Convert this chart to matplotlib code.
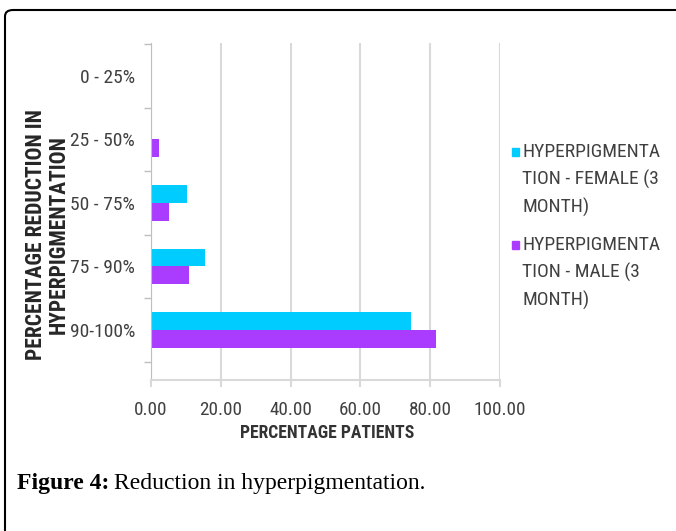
import matplotlib
matplotlib.use("Agg")
import matplotlib.pyplot as plt
from matplotlib import font_manager
from matplotlib.patches import FancyBboxPatch, Rectangle
import numpy as np

# data
categories = ["0 - 25%", "25 - 50%", "50 - 75%", "75 - 90%", "90-100%"]
female = [0.0, 0.0, 10.2, 15.4, 74.5]
male = [0.0, 2.3, 5.3, 11.0, 81.8]
series_labels = ["HYPERPIGMENTA\nTION - FEMALE (3\nMONTH)",
                 "HYPERPIGMENTA\nTION - MALE (3\nMONTH)"]
series_colors = ["#00ccff", "#aa3cff"]
x_ticks = [0, 20, 40, 60, 80, 100]


def pick_font(names):
    for n in names:
        try:
            font_manager.findfont(n, fallback_to_default=False)
            return n
        except Exception:
            pass
    return "DejaVu Sans"


narrow = pick_font(["Liberation Sans Narrow", "DejaVu Sans Condensed",
                    "Roboto Condensed", "Open Sans Condensed", "Roboto"])
font = [narrow, "DejaVu Sans"]

W, H = 676, 531
fig = plt.figure(figsize=(W / 100, H / 100), dpi=100)

text_col = "#404040"
grid_col = "#d9d9d9"


def fx(px):
    return px / W


def fy(py):
    return 1 - py / H


# frame around the figure (only top and left visible)
frame = FancyBboxPatch((fx(5), fy(10) - 1), 1.1, 1.0,
                       boxstyle="round,pad=0,rounding_size=0.012",
                       transform=fig.transFigure, fill=False,
                       edgecolor="black", linewidth=1.5)
fig.patches.append(frame)

ax_left, ax_right, ax_top, ax_bot = 151, 500, 43, 380
ax = fig.add_axes([fx(ax_left), fy(ax_bot), (ax_right - ax_left) / W,
                   (ax_bot - ax_top) / H])

y = np.arange(len(categories))
h = 0.28
ax.barh(y - h / 2, female, height=h, color=series_colors[0])
ax.barh(y + h / 2, male, height=h, color=series_colors[1])

ax.set_xlim(0, 100)
ax.set_ylim(4.79, -0.52)
ax.set_xticks(x_ticks)
ax.set_xticklabels(["%.2f" % v for v in x_ticks], fontfamily=font,
                   fontsize=13.8, color=text_col)
ax.set_yticks(y)
ax.set_yticklabels(categories, fontfamily=font, fontsize=14, color=text_col)
ax.set_yticks(np.arange(-0.5, len(categories)), minor=True)
ax.tick_params(axis="y", which="major", length=0, pad=11.5)
ax.tick_params(axis="y", which="minor", length=5, color="#bfbfbf", width=1)
ax.tick_params(axis="x", length=5, color=grid_col, width=1.5, pad=10)

ax.grid(axis="x", color=grid_col, linewidth=1.5)
ax.set_axisbelow(True)
for s in ["top", "right"]:
    ax.spines[s].set_visible(False)
ax.spines["left"].set_color("#bfbfbf")
ax.spines["bottom"].set_color(grid_col)
ax.spines["bottom"].set_linewidth(1.5)

fig.text(fx(327), fy(433), "PERCENTAGE PATIENTS",
         ha="center", va="center", fontsize=12.7, fontweight="bold",
         fontfamily=font, color="#333333")
fig.text(fx(47), fy(235), "PERCENTAGE REDUCTION IN\nHYPERPIGMENTATION",
         ha="center", va="center", rotation=90, fontsize=15.5,
         fontweight="bold", fontfamily=font, color="#262626",
         linespacing=1.05)

# legend drawn by hand: square next to the first line of each label
legend_tops = [152, 245]
for lab, col, ty in zip(series_labels, series_colors, legend_tops):
    fig.patches.append(Rectangle((fx(512), fy(ty + 4)), 7 / W, 8 / H,
                                 transform=fig.transFigure, color=col))
    for k, line in enumerate(lab.split("\n")):
        fig.text(fx(522), fy(ty + 27.5 * k), line, ha="left", va="center",
                 fontsize=14, fontfamily=font, color=text_col)

# caption: bold label followed by plain text
cap1 = fig.text(fx(17), fy(484), "Figure 4:", ha="left", va="center",
                fontsize=17, fontweight="bold", fontfamily="Liberation Serif")
fig.canvas.draw()
bb = cap1.get_window_extent()
fig.text((bb.x1 + 5) / W, fy(484), "Reduction in hyperpigmentation.",
         ha="left", va="center", fontsize=17,
         fontfamily="Liberation Serif")

fig.savefig("out.png", dpi=100)
